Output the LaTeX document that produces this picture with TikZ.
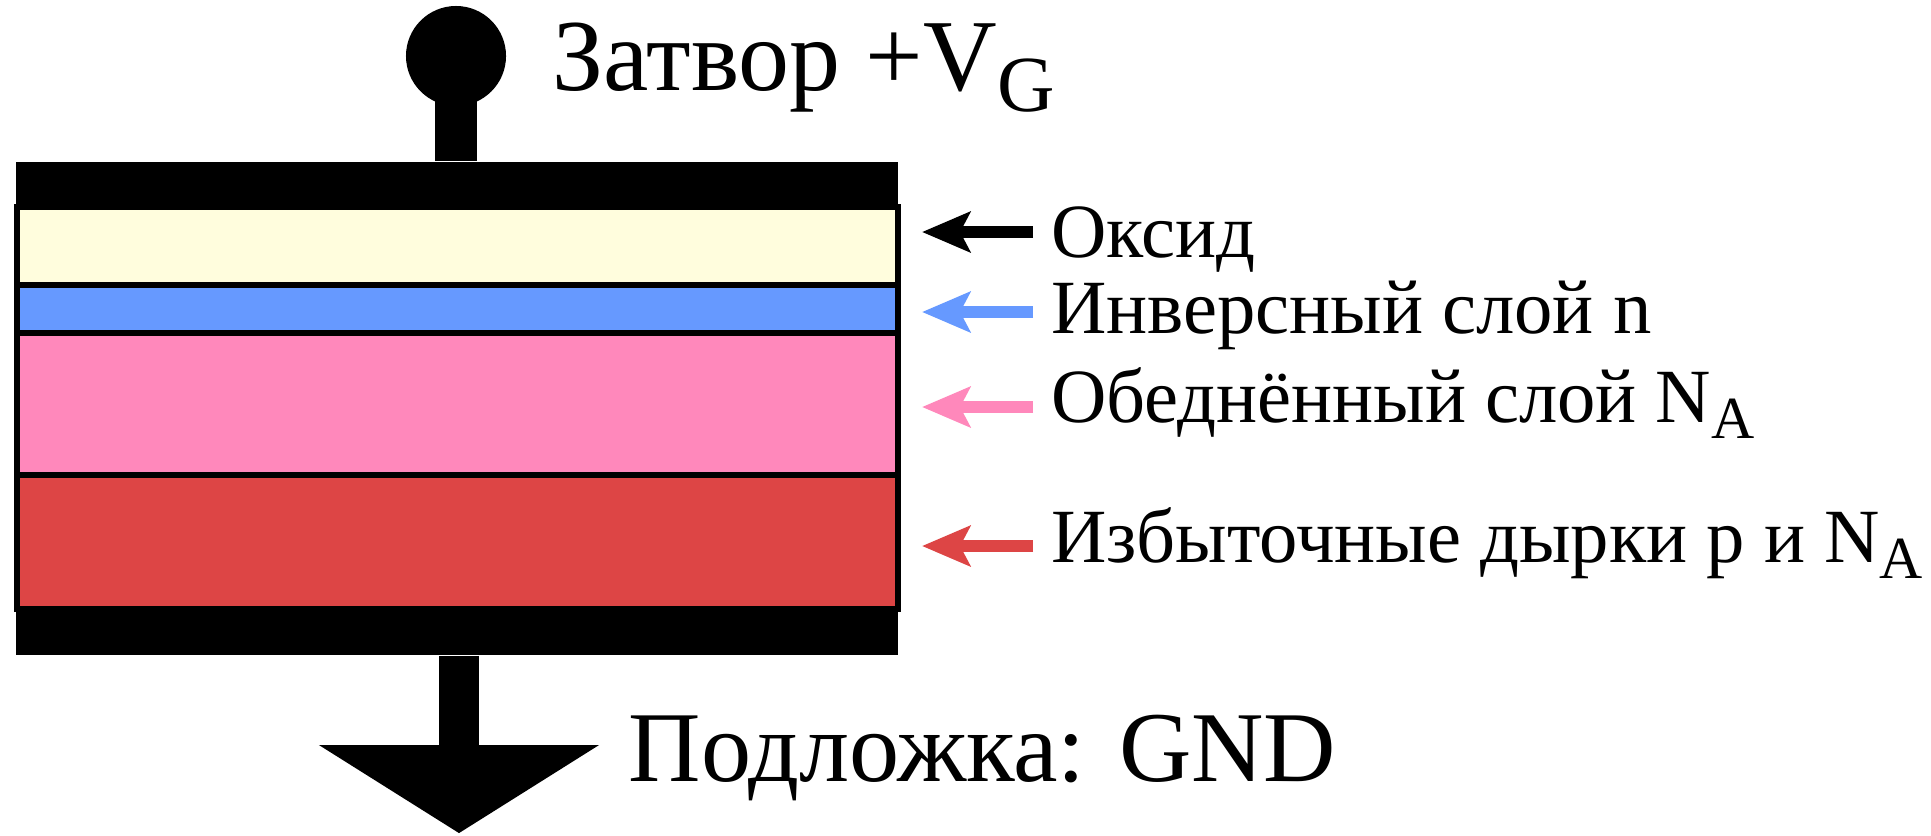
\documentclass[tikz,border=0pt]{standalone}
\usepackage{fontspec}
\setmainfont{Liberation Serif}
\usetikzlibrary{arrows.meta}

\definecolor{oxidefill}{HTML}{FFFDDD}
\definecolor{invfill}{HTML}{6699FF}
\definecolor{depfill}{HTML}{FF88BB}
\definecolor{bulkfill}{HTML}{DD4545}

% lowered index for V_G, N_A
\newcommand{\lowidx}[1]{\raisebox{-0.21em}{\scalebox{0.78}{#1}}}

\begin{document}
\begin{tikzpicture}[
                        x=0.01cm, y=-0.01cm,
                        >={Stealth[length=4.8mm,width=4mm,inset=1mm]},
                        layer/.style={draw=black, line width=0.6mm},
                        plate/.style={fill=black, inner sep=0pt, minimum width=8.82cm},
                        lbl/.style={anchor=base west, inner sep=0pt, outer xsep=1.8mm,
                                    font=\fontsize{21.8pt}{26pt}\selectfont},
                        pointer/.style={->, line width=1.2mm}
                    ]
                    \useasboundingbox (0,0) rectangle (1931,835);

                    % Layers
                    \draw [layer, fill=oxidefill] (17,207) rectangle (898,285);
                    \draw [layer, fill=invfill] (17,285) rectangle (898,333);
                    \draw [layer, fill=depfill] (17,333) rectangle (898,475);
                    \draw [layer, fill=bulkfill] (17,475) rectangle (898,609);

                    % Blocks
                    \node [plate, minimum height=0.45cm] (topPlate) at (457,184.5) {};
                    \node [plate, minimum height=0.46cm] (botPlate) at (457,632) {};
                    \node [circle, fill=black, inner sep=0pt, minimum size=1cm] (gateBall) at (456,56) {};
                    \coordinate (gnd) at (459,745);

                    \node [anchor=base west, inner sep=0pt, font=\fontsize{29pt}{34pt}\selectfont]
                        (gateLbl) at (552,90) {Затвор +V\lowidx{G}};
                    \node [anchor=base west, inner sep=0pt, font=\fontsize{28.5pt}{34pt}\selectfont]
                        (subLbl) at (628,781) {Подложка: GND};

                    \node [lbl] (oxLbl) at (1033,257) {Оксид};
                    \node [lbl] (invLbl) at (1033,333) {Инверсный слой n};
                    \node [lbl] (depLbl) at (1033,422) {Обеднённый слой N\lowidx{A}};
                    \node [lbl] (bulkLbl) at (1033,562) {Избыточные дырки p и N\lowidx{A}};

                    \coordinate (oxTip) at (922,232);
                    \coordinate (invTip) at (922,312);
                    \coordinate (depTip) at (922,407);
                    \coordinate (bulkTip) at (922,546);

                    % Connections
                    \draw [line width=4.2mm] (gateBall.center) -- (gateBall.center |- topPlate.north);
                    \draw [line width=4mm] (botPlate.south -| gnd) -- (gnd);
                    \fill ([xshift=-1.4cm]gnd) -- ([xshift=1.4cm]gnd) -- ([yshift=-0.88cm]gnd) -- cycle;

                    \draw [pointer] (oxTip -| oxLbl.west) -- (oxTip);
                    \draw [pointer, invfill] (invTip -| invLbl.west) -- (invTip);
                    \draw [pointer, depfill] (depTip -| depLbl.west) -- (depTip);
                    \draw [pointer, bulkfill] (bulkTip -| bulkLbl.west) -- (bulkTip);
                \end{tikzpicture}
\end{document}
